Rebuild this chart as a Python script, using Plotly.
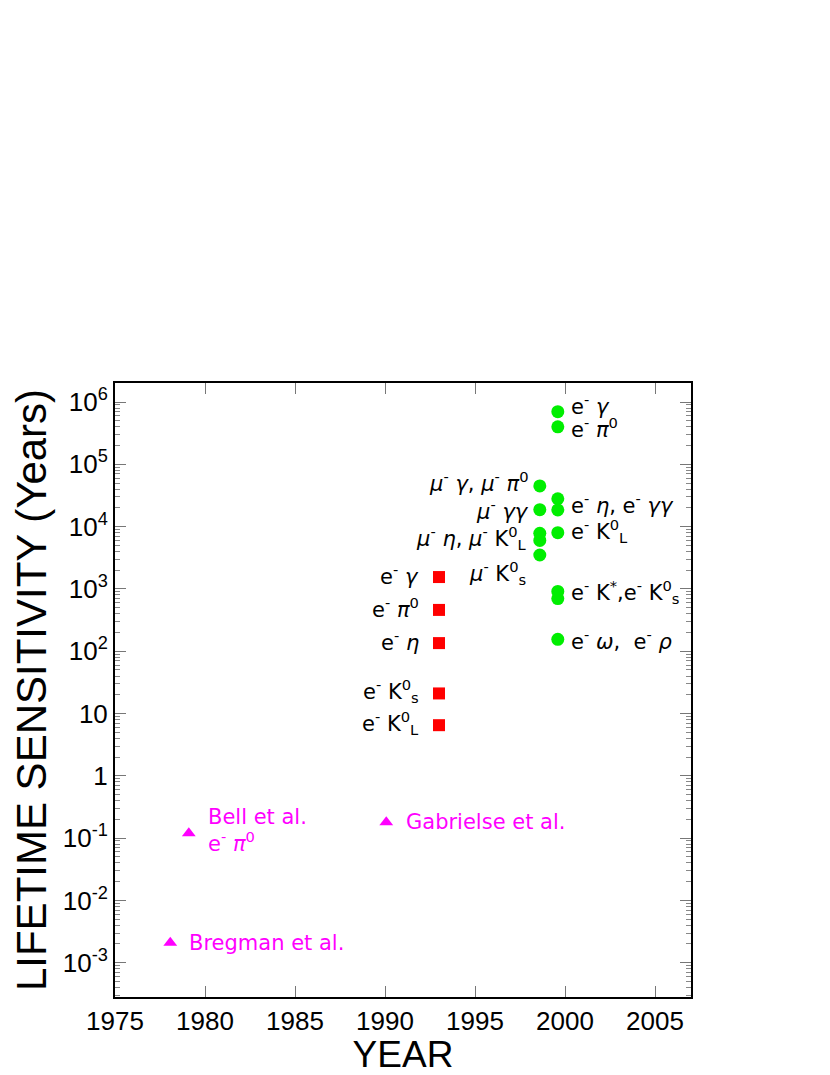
import math
import plotly.graph_objects as go

# ---- data ----
green_years = [1999.6, 1999.6, 1998.6, 1999.6, 1998.6, 1999.6, 1998.6, 1998.6, 1999.6, 1998.6, 1999.6, 1999.6, 1999.6]
green_vals = [7.0e5, 4.0e5, 4.5e4, 2.8e4, 1.87e4, 1.85e4, 7.8e3, 6.0e3, 8.0e3, 3.5e3, 9.1e2, 7.0e2, 155]
green_labels = ["e<sup>-</sup> <i>γ</i>", "e<sup>-</sup> <i>π</i><sup>0</sup>",
                "<i>μ</i><sup>-</sup> <i>γ</i>, <i>μ</i><sup>-</sup> <i>π</i><sup>0</sup>",
                "e<sup>-</sup> <i>η</i>, e<sup>-</sup> <i>γγ</i>",
                "<i>μ</i><sup>-</sup> <i>γγ</i>", "",
                "<i>μ</i><sup>-</sup> <i>η</i>, <i>μ</i><sup>-</sup> K<sup>0</sup><sub>L</sub>", "",
                "e<sup>-</sup> K<sup>0</sup><sub>L</sub>",
                "<i>μ</i><sup>-</sup> K<sup>0</sup><sub>s</sub>",
                "e<sup>-</sup> K<sup>*</sup>,e<sup>-</sup> K<sup>0</sup><sub>s</sub>", "",
                "e<sup>-</sup> <i>ω</i>,  e<sup>-</sup> <i>ρ</i>"]

red_years = [1993, 1993, 1993, 1993, 1993]
red_vals = [1.55e3, 4.6e2, 1.35e2, 21, 6.5]
red_labels = ["e<sup>-</sup> <i>γ</i>", "e<sup>-</sup> <i>π</i><sup>0</sup>", "e<sup>-</sup> <i>η</i>",
              "e<sup>-</sup> K<sup>0</sup><sub>s</sub>", "e<sup>-</sup> K<sup>0</sup><sub>L</sub>"]

mag_years = [1979.1, 1990.07, 1978.07]
mag_vals = [0.12, 0.18, 2.1e-3]
mag_labels = ["Bell et al.<br>e<sup>-</sup> <i>π</i><sup>0</sup>", "Gabrielse et al.", "Bregman et al."]

x_ticks = [1975, 1980, 1985, 1990, 1995, 2000, 2005]
y_tickvals = [1e-3, 1e-2, 1e-1, 1, 10, 1e2, 1e3, 1e4, 1e5, 1e6]
y_ticktext = ["10<sup>-3</sup>", "10<sup>-2</sup>", "10<sup>-1</sup>", "1", "10",
              "10<sup>2</sup>", "10<sup>3</sup>", "10<sup>4</sup>", "10<sup>5</sup>", "10<sup>6</sup>"]

FONT = "Liberation Sans"
LFONT = "DejaVu Sans"
LSIZE = 21

fig = go.Figure()
fig.add_trace(go.Scatter(x=green_years, y=green_vals, mode="markers",
                         marker=dict(symbol="circle", size=13, color="#00ee00"), showlegend=False))
fig.add_trace(go.Scatter(x=red_years, y=red_vals, mode="markers",
                         marker=dict(symbol="square", size=12, color="#ff0000"), showlegend=False))
fig.add_trace(go.Scatter(x=mag_years, y=mag_vals, mode="markers",
                         marker=dict(symbol="triangle-up", size=12, color="#ff00ff"), showlegend=False))

# label placement: (side, xshift, yshift)
green_place = [("right", 11, 7), ("right", 11, -1), ("left", -9, 4), ("right", 11, -5),
               ("left", -9, 0), None, ("left", -11, -5), None, ("right", 11, 2),
               ("left_low", -73, -18), ("right", 11, -1), None, ("right", 11, -1)]
ann = []
for xv, yv, t, pl in zip(green_years, green_vals, green_labels, green_place):
    if not t or pl is None:
        continue
    side, xs, ys = pl
    ann.append(dict(x=xv, y=math.log10(yv), xref="x", yref="y", text=t, showarrow=False,
                    xanchor="right" if side == "left" else "left", yanchor="middle",
                    xshift=xs, yshift=ys, font=dict(family=LFONT, size=LSIZE, color="black")))
for xv, yv, t in zip(red_years, red_vals, red_labels):
    ann.append(dict(x=xv, y=math.log10(yv), xref="x", yref="y", text=t, showarrow=False,
                    xanchor="right", yanchor="middle", xshift=-18, yshift=2,
                    font=dict(family=LFONT, size=LSIZE, color="black")))
mag_shift = [(17, 3), (18, 0), (17, 0)]
for xv, yv, t, (xs, ys) in zip(mag_years, mag_vals, mag_labels, mag_shift):
    ann.append(dict(x=xv, y=math.log10(yv), xref="x", yref="y", text=t, showarrow=False,
                    xanchor="left", yanchor="middle", xshift=xs, yshift=ys, align="left",
                    font=dict(family=LFONT, size=LSIZE, color="#ff00ff")))

minor_y = [k * 10.0 ** e for e in range(-4, 7) for k in range(2, 10)]

fig.update_layout(
    width=822, height=1067,
    margin=dict(l=107, r=139, t=375, b=78, autoexpand=False),
    paper_bgcolor="white", plot_bgcolor="white",
    font=dict(family=FONT, color="black"),
    annotations=ann,
    xaxis=dict(range=[1975, 2007], tickmode="array", tickvals=x_ticks,
               ticks="inside", ticklen=11, tickcolor="#777777", tickwidth=1,
               showline=True, linecolor="black", linewidth=2, mirror="ticks",
               showgrid=False, zeroline=False, tickfont=dict(size=26, family=FONT),
               title=dict(text="YEAR", font=dict(size=37, family=FONT), standoff=3)),
    yaxis=dict(type="log", range=[-3.55, 6.305], tickmode="array", tickvals=y_tickvals,
               ticktext=y_ticktext, ticks="inside", ticklen=11, tickcolor="#777777", tickwidth=1,
               showline=True, linecolor="black", linewidth=2, mirror="ticks",
               showgrid=False, zeroline=False, tickfont=dict(size=26, family=FONT),
               minor=dict(tickmode="array", tickvals=minor_y, ticks="inside", ticklen=5,
                          tickcolor="#888888", showgrid=False),
               title=dict(text="LIFETIME SENSITIVITY (Years)", font=dict(size=42, family=FONT),
                          standoff=10)),
)

fig.write_html("out.html")
